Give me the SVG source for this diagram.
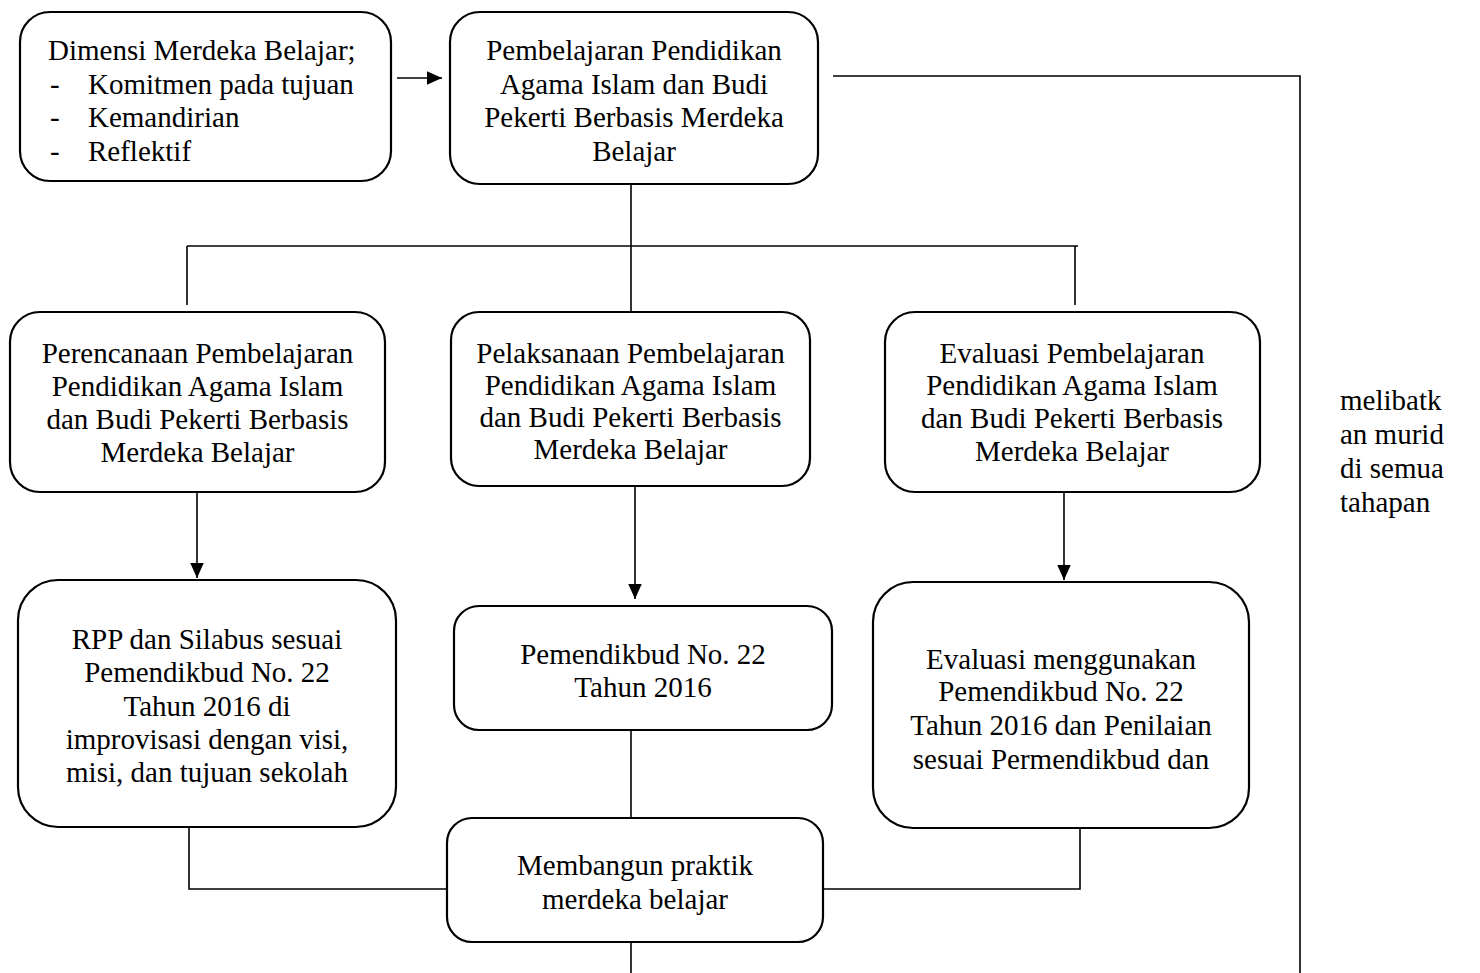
<svg xmlns="http://www.w3.org/2000/svg" width="1480" height="973" viewBox="0 0 1480 973">
<style>
.box{fill:#fff;stroke:#000;stroke-width:2.2}
.t{font-family:"Liberation Serif","Times New Roman",serif;font-size:29px;fill:#000}
.c{text-anchor:middle}
.ln{fill:none;stroke:#000;stroke-width:1.6}
</style>
<defs>
<marker id="ah" viewBox="0 0 10 10" refX="10" refY="5" markerWidth="15" markerHeight="15" markerUnits="userSpaceOnUse" orient="auto">
<path d="M0,0.5 L10,5 L0,9.5 z" fill="#000"/>
</marker>
</defs>
<rect width="1480" height="973" fill="#fff"/>
<g id="connectors">
<line class="ln" x1="397" y1="78" x2="442" y2="78" marker-end="url(#ah)"/>
<polyline class="ln" points="833,76 1300,76 1300,973"/>
<line class="ln" x1="631" y1="184" x2="631" y2="312"/>
<line class="ln" x1="187" y1="246" x2="1078" y2="246"/>
<line class="ln" x1="187" y1="246" x2="187" y2="305"/>
<line class="ln" x1="1075" y1="246" x2="1075" y2="305"/>
<line class="ln" x1="197" y1="492" x2="197" y2="578" marker-end="url(#ah)"/>
<line class="ln" x1="635" y1="486" x2="635" y2="599" marker-end="url(#ah)"/>
<line class="ln" x1="1064" y1="492" x2="1064" y2="580" marker-end="url(#ah)"/>
<line class="ln" x1="631" y1="730" x2="631" y2="818"/>
<line class="ln" x1="631" y1="942" x2="631" y2="973"/>
<polyline class="ln" points="189,827 189,889 447,889"/>
<polyline class="ln" points="823,889 1080,889 1080,828"/>
</g>
<g id="n-dimensi">
<rect class="box" x="20" y="12" width="371" height="169" rx="30"/>
<text class="t" x="48" y="60">Dimensi Merdeka Belajar;</text>
<text class="t" x="50" y="93.5">-</text><text class="t" x="88" y="93.5">Komitmen pada tujuan</text>
<text class="t" x="50" y="127">-</text><text class="t" x="88" y="127">Kemandirian</text>
<text class="t" x="50" y="160.5">-</text><text class="t" x="88" y="160.5">Reflektif</text>
</g>
<g id="n-pembelajaran">
<rect class="box" x="450" y="12" width="368" height="172" rx="30"/>
<text class="t c" x="634" y="60">Pembelajaran Pendidikan</text>
<text class="t c" x="634" y="94">Agama Islam dan Budi</text>
<text class="t c" x="634" y="127">Pekerti Berbasis Merdeka</text>
<text class="t c" x="634" y="161">Belajar</text>
</g>
<g id="n-perencanaan">
<rect class="box" x="10" y="312" width="375" height="180" rx="30"/>
<text class="t c" x="197.5" y="363">Perencanaan Pembelajaran</text>
<text class="t c" x="197.5" y="396">Pendidikan Agama Islam</text>
<text class="t c" x="197.5" y="429">dan Budi Pekerti Berbasis</text>
<text class="t c" x="197.5" y="462">Merdeka Belajar</text>
</g>
<g id="n-pelaksanaan">
<rect class="box" x="451" y="312" width="359" height="174" rx="28"/>
<text class="t c" x="630.5" y="363">Pelaksanaan Pembelajaran</text>
<text class="t c" x="630.5" y="395">Pendidikan Agama Islam</text>
<text class="t c" x="630.5" y="427">dan Budi Pekerti Berbasis</text>
<text class="t c" x="630.5" y="459">Merdeka Belajar</text>
</g>
<g id="n-evaluasi">
<rect class="box" x="885" y="312" width="375" height="180" rx="30"/>
<text class="t c" x="1072" y="363">Evaluasi Pembelajaran</text>
<text class="t c" x="1072" y="395">Pendidikan Agama Islam</text>
<text class="t c" x="1072" y="428">dan Budi Pekerti Berbasis</text>
<text class="t c" x="1072" y="461">Merdeka Belajar</text>
</g>
<g id="n-rpp">
<rect class="box" x="18" y="580" width="378" height="247" rx="40"/>
<text class="t c" x="207" y="649">RPP dan Silabus sesuai</text>
<text class="t c" x="207" y="682">Pemendikbud No. 22</text>
<text class="t c" x="207" y="716">Tahun 2016 di</text>
<text class="t c" x="207" y="749">improvisasi dengan visi,</text>
<text class="t c" x="207" y="782">misi, dan tujuan sekolah</text>
</g>
<g id="n-pemendikbud">
<rect class="box" x="454" y="606" width="378" height="124" rx="25"/>
<text class="t c" x="643" y="664">Pemendikbud No. 22</text>
<text class="t c" x="643" y="697">Tahun 2016</text>
</g>
<g id="n-evaluasi-menggunakan">
<rect class="box" x="873" y="582" width="376" height="246" rx="40"/>
<text class="t c" x="1061" y="669">Evaluasi menggunakan</text>
<text class="t c" x="1061" y="701">Pemendikbud No. 22</text>
<text class="t c" x="1061" y="735">Tahun 2016 dan Penilaian</text>
<text class="t c" x="1061" y="769">sesuai Permendikbud dan</text>
</g>
<g id="n-membangun">
<rect class="box" x="447" y="818" width="376" height="124" rx="25"/>
<text class="t c" x="635" y="875">Membangun praktik</text>
<text class="t c" x="635" y="909">merdeka belajar</text>
</g>
<g id="n-melibatkan">
<text class="t" x="1340" y="410">melibatk</text>
<text class="t" x="1340" y="444">an murid</text>
<text class="t" x="1340" y="478">di semua</text>
<text class="t" x="1340" y="512">tahapan</text>
</g>
</svg>
